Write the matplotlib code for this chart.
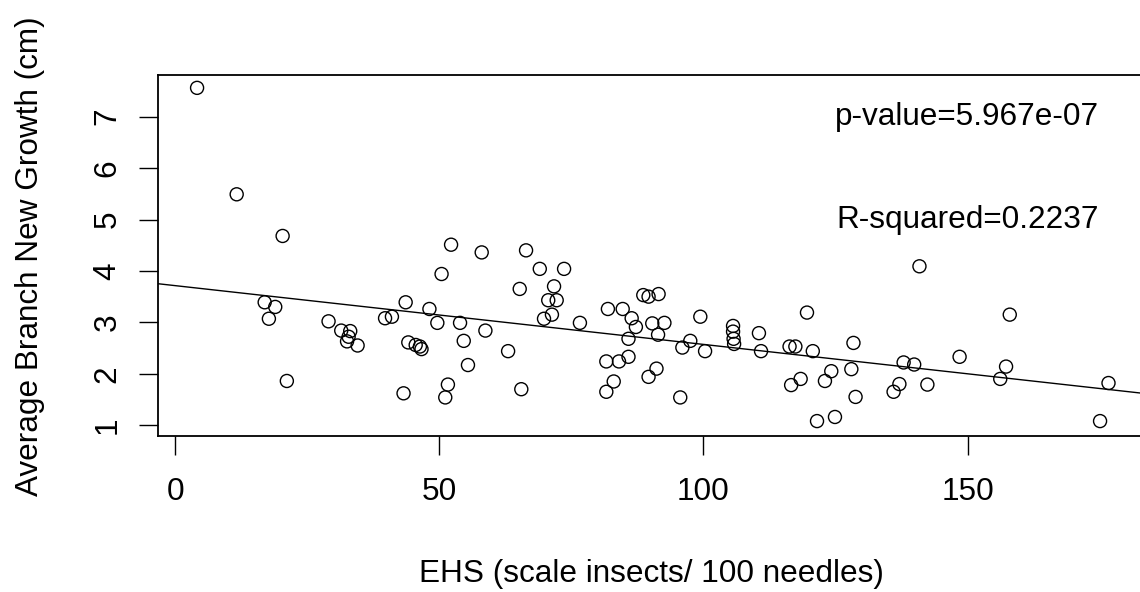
import numpy as np
import matplotlib.pyplot as plt

# Datos: EHS (insectos/100 agujas) y crecimiento medio (cm)
ehs = [4.1, 11.6, 20.3, 16.9, 18.9, 17.7, 21.1, 29.0, 31.4, 33.1,
       32.8, 32.5, 34.5, 39.7, 41.0, 43.6, 43.2, 44.1, 45.5, 46.3,
       46.6, 48.1, 49.6, 50.4, 52.2, 51.6, 51.1, 53.9, 54.6, 55.4,
       58.0, 58.7, 63.0, 66.4, 69.0, 73.6, 65.2, 71.7, 70.6, 72.2,
       71.3, 69.8, 76.6, 65.5, 81.9, 84.7, 86.4, 87.2, 85.8, 81.6,
       84.0, 85.8, 83.0, 81.6, 88.6, 89.6, 91.5, 90.3, 92.6, 91.4,
       91.1, 89.6, 95.6, 97.5, 96.0, 99.4, 100.3, 105.6, 105.6, 105.7,
       105.8, 110.5, 110.9, 116.6, 118.4, 116.3, 117.4, 119.6, 120.7, 121.5,
       124.9, 123.0, 124.2, 128.4, 128.0, 128.8, 140.9, 137.9, 139.9, 137.1,
       136.0, 142.4, 148.5, 158.0, 157.3, 156.2, 176.7, 175.1]
growth = [7.56, 5.49, 4.68, 3.39, 3.30, 3.07, 1.86, 3.02, 2.84, 2.83,
          2.72, 2.63, 2.55, 3.08, 3.11, 3.39, 1.62, 2.61, 2.56, 2.53,
          2.48, 3.26, 2.99, 3.94, 4.51, 1.79, 1.54, 2.99, 2.64, 2.17,
          4.36, 2.84, 2.44, 4.40, 4.04, 4.04, 3.65, 3.70, 3.43, 3.43,
          3.15, 3.07, 2.99, 1.70, 3.26, 3.26, 3.08, 2.91, 2.68, 2.24,
          2.24, 2.33, 1.85, 1.65, 3.53, 3.50, 3.55, 2.98, 2.99, 2.76,
          2.10, 1.94, 1.54, 2.64, 2.51, 3.11, 2.44, 2.93, 2.82, 2.68,
          2.58, 2.79, 2.44, 1.78, 1.90, 2.53, 2.53, 3.19, 2.44, 1.08,
          1.16, 1.86, 2.05, 2.60, 2.09, 1.55, 4.09, 2.22, 2.18, 1.80,
          1.65, 1.79, 2.33, 3.15, 2.14, 1.90, 1.82, 1.08]

x_ticks = [0, 50, 100, 150]
y_ticks = [1, 2, 3, 4, 5, 6, 7]
p_text = "p-value=5.967e-07"
r2_text = "R-squared=0.2237"

plt.rcParams['font.family'] = ['Liberation Sans', 'DejaVu Sans']
fs = 22.7

fig = plt.figure(figsize=(11.4, 5.92), dpi=100)
ax = fig.add_axes([158 / 1140, 156 / 592, 988 / 1140, 361 / 592])

# Puntos como círculos abiertos (estilo R)
ax.scatter(ehs, growth, s=88, facecolors='none', edgecolors='black', linewidths=1.0)

ax.set_xlim(-3.3, 183.8)
ax.set_ylim(0.79, 7.81)

# Recta de regresión lineal
slope, intercept = np.polyfit(ehs, growth, 1)
xl = np.array(ax.get_xlim())
ax.plot(xl, intercept + slope * xl, color='black', linewidth=1.0)

ax.text(150, 7, p_text, ha='center', va='center', fontsize=fs)
ax.text(150, 5, r2_text, ha='center', va='center', fontsize=fs)

ax.set_xticks(x_ticks)
ax.set_yticks(y_ticks)
ax.tick_params(axis='both', length=13.5, width=1.0, labelsize=fs, color='black')
ax.tick_params(axis='x', pad=16)
ax.tick_params(axis='y', pad=12, labelrotation=90)
for lbl in ax.get_yticklabels():
    lbl.set_verticalalignment('center')

for s in ax.spines.values():
    s.set_linewidth(1.3)

fig.text(651 / 1140, 1 - 574 / 592, "EHS (scale insects/ 100 needles)",
         ha='center', va='center', fontsize=fs)
fig.text(30 / 1140, 1 - 256 / 592, "Average Branch New Growth (cm)",
         ha='center', va='center', rotation=90, fontsize=fs)

fig.savefig("out.png", dpi=100)
